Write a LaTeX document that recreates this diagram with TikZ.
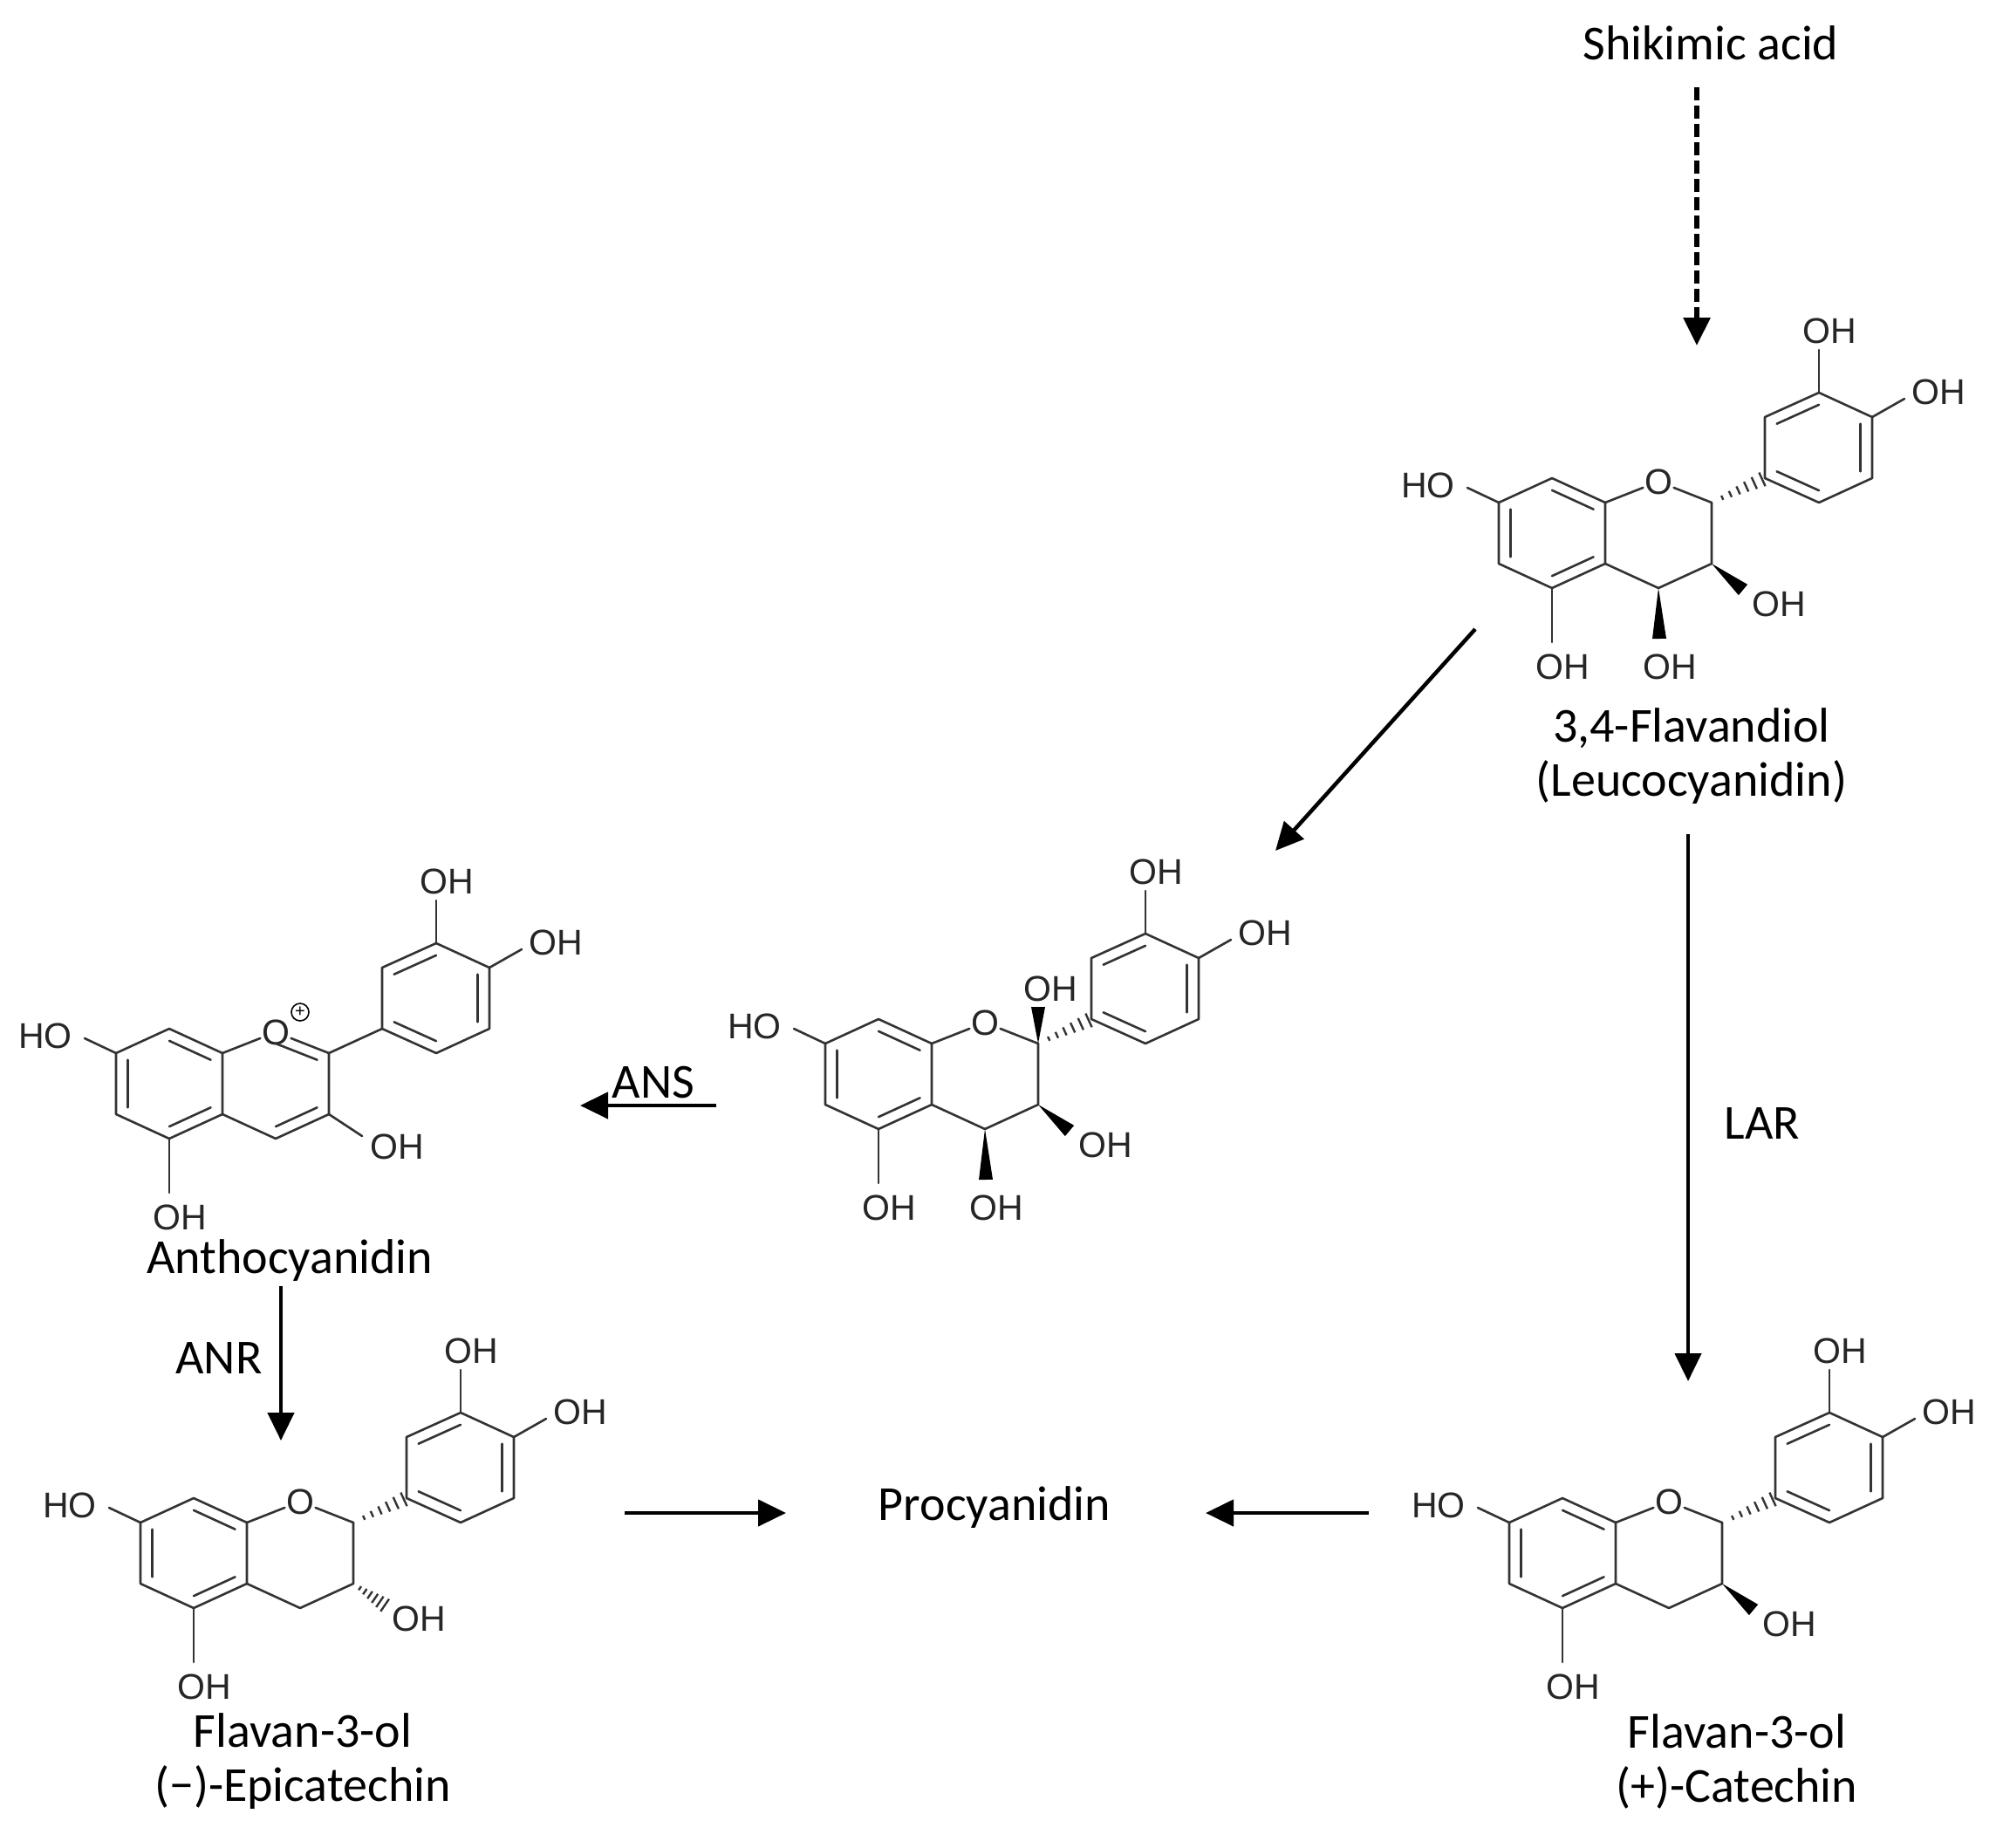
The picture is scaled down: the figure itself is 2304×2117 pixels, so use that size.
\documentclass[tikz,border=0pt]{standalone}
\usepackage{fontspec}
\setmainfont{Carlito}
\newfontfamily\atomf{Liberation Sans}
\usetikzlibrary{calc,arrows.meta}
\tikzset{
 bond/.style={line width=2.6pt,draw=black!80,line cap=round,line join=round},
 atom/.style={font=\atomf\fontsize{41}{41}\selectfont,inner sep=1.5pt,text=black!85},
 lbl/.style={font=\fontsize{56}{62}\selectfont,align=center,inner sep=0pt},
 arr/.style={line width=4.5pt,-{Triangle[width=30pt,length=32pt]}},
}
\newcommand\dblb[3]{\draw[bond] ($(#1)!0.22!(#3)$)--($(#2)!0.22!(#3)$);}
\newcommand\wedgeb[2]{\fill[black] (#1)--($(#2)!8pt!90:(#1)$)--($(#2)!8pt!-90:(#1)$)--cycle;}
\newcommand\hashb[2]{\foreach \t in {0.2,0.35,...,1.0}{\pgfmathsetmacro\w{1+8*\t}\draw[line width=2.4pt,black!80] ($($(#1)!\t!(#2)$)!\w pt!90:(#2)$)--($($(#1)!\t!(#2)$)!\w pt!-90:(#2)$);}}
\newcommand\core{%
 \coordinate (8a) at (0,0); \coordinate (8) at (-61,-28); \coordinate (7) at (-122,0);
 \coordinate (6) at (-122,70); \coordinate (5) at (-61,98); \coordinate (4a) at (0,70);
 \coordinate (2) at (122,0); \coordinate (3) at (122,70); \coordinate (4) at (61,98);
 \coordinate (1p) at (183,-28); \coordinate (2p) at (183,-98); \coordinate (3p) at (245,-126);
 \coordinate (4p) at (306,-98); \coordinate (5p) at (306,-28); \coordinate (6p) at (245,0);
 \coordinate (ca) at (-61,35); \coordinate (cb) at (245,-63); \coordinate (cc) at (61,35);
 \node[atom] (O) at (61,-24) {O};
 \draw[bond] (8a)--(8)--(7)--(6)--(5)--(4a)--cycle;
 \draw[bond] (2)--(3)--(4)--(4a);
 \draw[bond] (8a)--(O)--(2);
 \draw[bond] (1p)--(2p)--(3p)--(4p)--(5p)--(6p)--cycle;
 \dblb{8}{8a}{ca}\dblb{7}{6}{ca}\dblb{5}{4a}{ca}
 \dblb{2p}{3p}{cb}\dblb{4p}{5p}{cb}\dblb{6p}{1p}{cb}
 \node[atom] (ho7) at (-203,-20) {HO}; \draw[bond] (7)--(-158,-17);
 \node[atom] (oh5) at (-49,188) {OH}; \draw[bond] (5)--(-61,160);
 \node[atom] (oh3p) at (257,-197) {OH}; \draw[bond] (3p)--(245,-175);
 \node[atom] (oh4p) at (382,-127) {OH}; \draw[bond] (4p)--(343,-119);
}
\begin{document}
\begin{tikzpicture}[x=1pt,y=-1pt]
\useasboundingbox (0,0) rectangle (2304,2117);
% M1 leucocyanidin
\begin{scope}[shift={(1840,576)}]
 \core \hashb{2}{1p}
 \wedgeb{4}{62,156} \node[atom] at (74,188) {OH};
 \wedgeb{3}{158,100} \node[atom] at (199,116) {OH};
\end{scope}
% M2
\begin{scope}[shift={(1068,1196)}]
 \core \hashb{2}{1p}
 \wedgeb{4}{62,156} \node[atom] at (74,188) {OH};
 \wedgeb{3}{158,100} \node[atom] at (199,116) {OH};
 \wedgeb{2}{122,-42} \node[atom] at (136,-63) {OH};
\end{scope}
% M3 anthocyanidin
\begin{scope}[shift={(255,1207)}]
 \core \draw[bond] (2)--(1p);
 \dblb{O}{2}{cc}\dblb{3}{4}{cc}
 \node[draw,circle,line width=1.6pt,inner sep=0pt,minimum size=20pt,font=\atomf\fontsize{20}{20}\selectfont] at (89,-47) {+};
 \draw[bond] (3)--(160,95); \node[atom] at (200,107) {OH};
\end{scope}
% M4 epicatechin
\begin{scope}[shift={(283,1745)}]
 \core \hashb{2}{1p}
 \hashb{3}{160,96} \node[atom] at (197,110) {OH};
\end{scope}
% M5 catechin
\begin{scope}[shift={(1852,1745)}]
 \core \hashb{2}{1p}
 \wedgeb{3}{158,100} \node[atom] at (199,116) {OH};
\end{scope}
% labels
\node[lbl] (shik) at (1961,49) {Shikimic acid};
\node[lbl] (leuco) at (1939,867) {3,4-Flavandiol\\(Leucocyanidin)};
\node[lbl] (antho) at (332,1445) {Anthocyanidin};
\node[lbl] (epi) at (347,2019) {Flavan-3-ol\\(−)-Epicatechin};
\node[lbl] (cat) at (1991,2019) {Flavan-3-ol\\(+)-Catechin};
\node[lbl] (proc) at (1140,1728) {Procyanidin};
\node[lbl] (lar) at (2020,1288) {LAR};
\node[lbl] (ans) at (749,1241) {ANS};
\node[lbl] (anr) at (251,1557) {ANR};
% arrows
\coordinate (d1) at (1945,100); \coordinate (d2) at (1945,396);
\draw[arr,line width=6pt,dash pattern=on 15pt off 6pt] (d1)--(d2);
\coordinate (a1) at (1691,721); \coordinate (a2) at (1462,975);
\draw[arr] (a1)--(a2);
\coordinate (l1) at (1935,956); \coordinate (l2) at (1935,1583);
\draw[arr] (l1)--(l2);
\coordinate (s1) at (821,1267); \coordinate (s2) at (665,1267);
\draw[arr] (s1)--(s2);
\coordinate (r1) at (322,1474); \coordinate (r2) at (322,1651);
\draw[arr] (r1)--(r2);
\coordinate (p1) at (716,1734); \coordinate (p2) at (901,1734);
\draw[arr] (p1)--(p2);
\coordinate (q1) at (1569,1734); \coordinate (q2) at (1382,1734);
\draw[arr] (q1)--(q2);
\end{tikzpicture}
\end{document}
